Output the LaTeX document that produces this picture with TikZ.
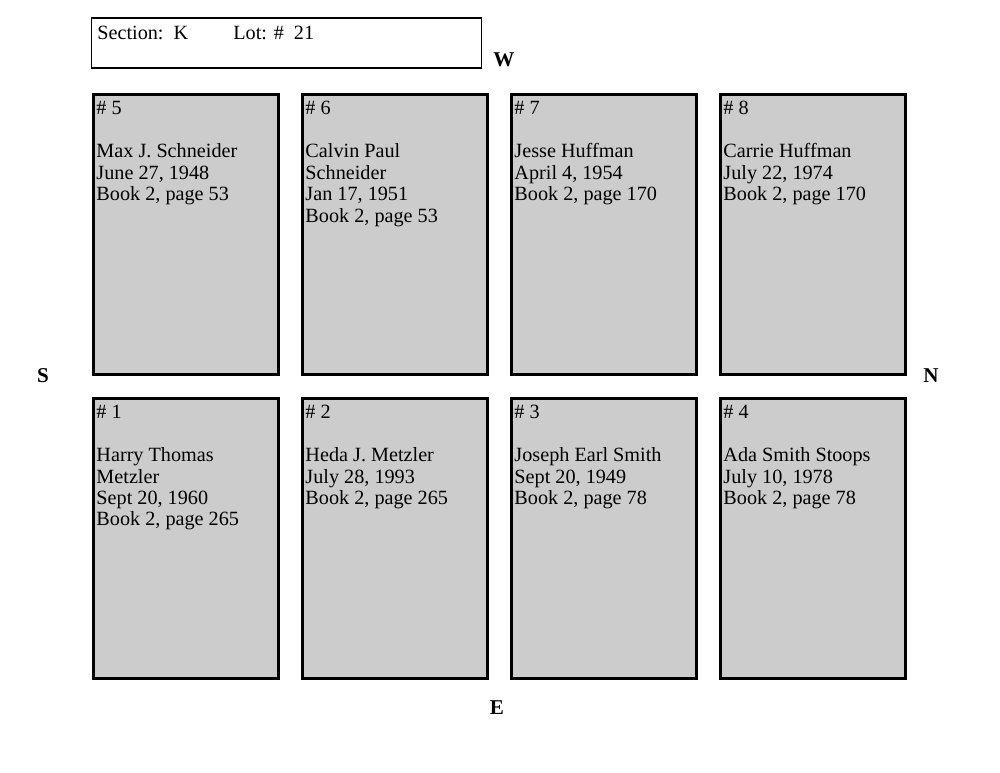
\documentclass[tikz,border=0pt]{standalone}
\usepackage{fontspec}
\setmainfont{Liberation Serif}
\usetikzlibrary{positioning}
\definecolor{plotgray}{RGB}{204,204,204}

\begin{document}
\begin{tikzpicture}[x=0.02cm, y=-0.02cm,
  plot/.style={draw, line width=1.6pt, fill=plotgray, minimum width=3.7cm, minimum height=5.6cm, inner sep=0pt},
  info/.style={anchor=north west, inner sep=0pt, align=left, font=\fontsize{11.5}{12.2}\selectfont, xshift=0.08cm, yshift=-0.16cm},
  compass/.style={font=\fontsize{12}{14}\selectfont\bfseries, inner sep=0pt}
]
  \useasboundingbox (0,0) rectangle (1000,773);

  % header
  \node[draw, line width=0.7pt, minimum width=7.8cm, minimum height=1cm, inner sep=0pt] (head) at (286.5,43) {};
  \node[anchor=base west, inner sep=0pt, font=\fontsize{11.5}{13}\selectfont] (sec) at (97,40) {Section:\ \ K};
  \node[anchor=base west, inner sep=0pt, font=\fontsize{11.5}{13}\selectfont] (lot) at (233,40) {Lot: \#\ \ 21};

  % compass points
  \node[compass] (west) at (504,60) {W};
  \node[compass] (south) at (43,376) {S};
  \node[compass] (north) at (931,376) {N};
  \node[compass] (east) at (497,708) {E};

  % top row
  \node[plot] (p5) at (186,234.5) {};
  \node[plot] (p6) at (395,234.5) {};
  \node[plot] (p7) at (604,234.5) {};
  \node[plot] (p8) at (813,234.5) {};
  \node[info] (t5) at (p5.north west) {\# 5\\[\baselineskip]Max J. Schneider\\June 27, 1948\\Book 2, page 53};
  \node[info] (t6) at (p6.north west) {\# 6\\[\baselineskip]Calvin Paul\\Schneider\\Jan 17, 1951\\Book 2, page 53};
  \node[info] (t7) at (p7.north west) {\# 7\\[\baselineskip]Jesse Huffman\\April 4, 1954\\Book 2, page 170};
  \node[info] (t8) at (p8.north west) {\# 8\\[\baselineskip]Carrie Huffman\\July 22, 1974\\Book 2, page 170};

  % bottom row
  \node[plot] (p1) at (186,538.5) {};
  \node[plot] (p2) at (395,538.5) {};
  \node[plot] (p3) at (604,538.5) {};
  \node[plot] (p4) at (813,538.5) {};
  \node[info] (t1) at (p1.north west) {\# 1\\[\baselineskip]Harry Thomas\\Metzler\\Sept 20, 1960\\Book 2, page 265};
  \node[info] (t2) at (p2.north west) {\# 2\\[\baselineskip]Heda J. Metzler\\July 28, 1993\\Book 2, page 265};
  \node[info] (t3) at (p3.north west) {\# 3\\[\baselineskip]Joseph Earl Smith\\Sept 20, 1949\\Book 2, page 78};
  \node[info] (t4) at (p4.north west) {\# 4\\[\baselineskip]Ada Smith Stoops\\July 10, 1978\\Book 2, page 78};
\end{tikzpicture}
\end{document}
